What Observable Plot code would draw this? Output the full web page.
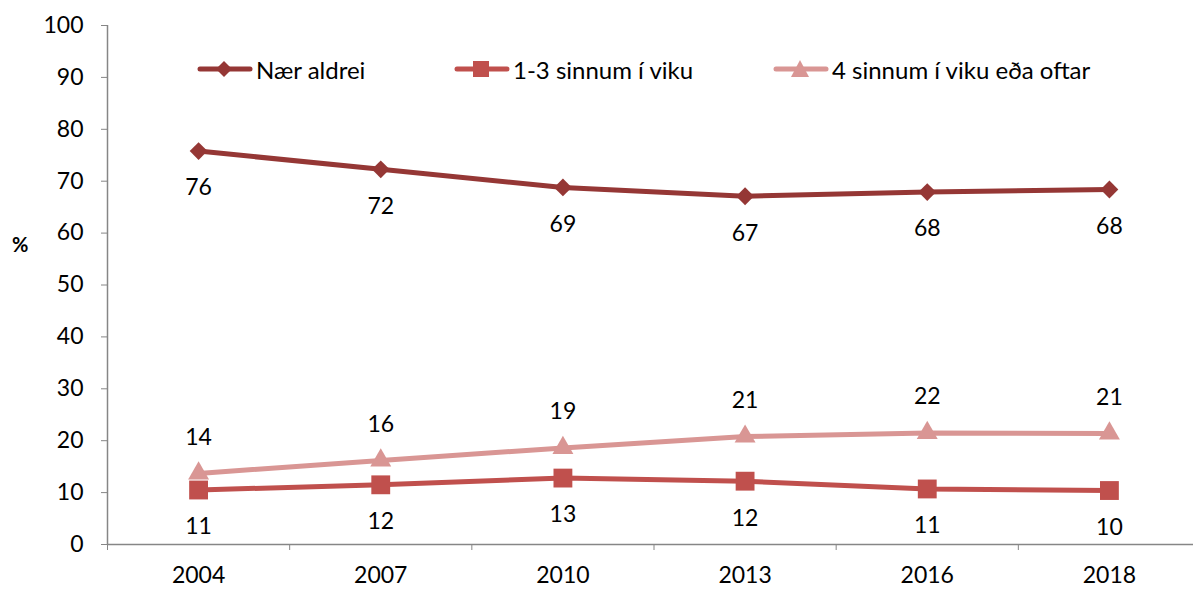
<!DOCTYPE html>
<html>
<head>
<meta charset="utf-8">
<script src="https://cdn.jsdelivr.net/npm/d3@7"></script>
<script src="https://cdn.jsdelivr.net/npm/@observablehq/plot@0.6"></script>
<style>
  html, body { margin: 0; padding: 0; background: #fff; overflow: hidden; }
  #wrap { position: relative; width: 1193px; height: 591px; font-family: Lato, "Open Sans", sans-serif; }
  .leg { position: absolute; top: 56px; height: 26px; display: flex; align-items: center; font-size: 24px; color: #000; white-space: nowrap; }
  .leg svg { margin-right: 3px; }
  #pct { position: absolute; left: 12px; top: 232px; font-weight: bold; font-size: 20px; }
</style>
</head>
<body>
<div id="wrap"></div>
<script>
const years = ["2004", "2007", "2010", "2013", "2016", "2018"];
const seriesNames = ["Nær aldrei", "1-3 sinnum í viku", "4 sinnum í viku eða oftar"];
const naerAldrei = [75.8, 72.3, 68.8, 67.1, 67.9, 68.4];
const einTilThrisvar = [10.5, 11.5, 12.8, 12.2, 10.7, 10.4];
const fjorumSinnum = [13.7, 16.2, 18.6, 20.8, 21.5, 21.4];
const yTicks = [0, 10, 20, 30, 40, 50, 60, 70, 80, 90, 100];

const colors = ["#953735", "#C0504D", "#D99694"];
const symbols = ["diamond2", "square2", "triangle2"];
const symR = [8, 12, 10];
const labelDy = [37, 37, -36];

const allSeries = [naerAldrei, einTilThrisvar, fjorumSinnum];
const rows = [];
allSeries.forEach((vals, s) => vals.forEach((v, i) => rows.push({ s, i, v })));

const marks = [
  Plot.ruleX([-0.5], { y1: 0, y2: 100, stroke: "#868686", strokeWidth: 1.5 }),
  Plot.ruleY([0], { x1: -0.5, x2: 5.6, stroke: "#868686", strokeWidth: 1.5 }),
  Plot.axisY({ ticks: yTicks, tickSize: 6, tickPadding: 18, stroke: "#868686", fill: "#000", label: null, fontSize: 23 }),
  Plot.axisX({ ticks: d3.range(-0.5, 6, 1), tickSize: 6, tickFormat: () => "", stroke: "#868686", label: null }),
  Plot.axisX({ ticks: d3.range(0, 6), tickSize: 0, tickPadding: 22, tickFormat: i => years[i], fill: "#000", label: null, fontSize: 23 })
];
allSeries.forEach((vals, s) => {
  const data = rows.filter(r => r.s === s);
  marks.push(Plot.line(data, { x: "i", y: "v", stroke: colors[s], strokeWidth: 5 }));
  marks.push(Plot.dot(data, { x: "i", y: "v", symbol: symbols[s], fill: colors[s], r: symR[s] }));
  marks.push(Plot.text(data, { x: "i", y: "v", text: d => String(Math.round(d.v)), dy: labelDy[s], fill: "#000", fontSize: 23 }));
});

const chart = Plot.plot({
  width: 1193,
  height: 591,
  marginLeft: 107,
  marginRight: 0,
  marginTop: 25,
  marginBottom: 47,
  x: { type: "linear", domain: [-0.5, 5.5], range: [107, 1200] },
  y: { domain: [0, 100], range: [544, 25] },
  style: { fontFamily: "Lato, 'Open Sans', sans-serif", fontSize: "23px", color: "#000", background: "#fff", overflow: "hidden" },
  marks
});
const wrap = document.getElementById("wrap");
wrap.appendChild(chart);

const pct = document.createElement("div");
pct.id = "pct";
pct.textContent = "%";
wrap.appendChild(pct);

const legLeft = [197, 454, 773];
const symPaths = [
  '<path d="M27,5 L35,13 L27,21 L19,13 Z" />',
  '<rect x="19" y="5" width="16" height="16" />',
  '<path d="M27,4 L36,21 L18,21 Z" />'
];
seriesNames.forEach((name, s) => {
  const d = document.createElement("div");
  d.className = "leg";
  d.style.left = legLeft[s] + "px";
  d.innerHTML = `<svg width="56" height="26"><line x1="3" x2="53" y1="13" y2="13" stroke="${colors[s]}" stroke-width="5" stroke-linecap="round"/><g fill="${colors[s]}">${symPaths[s]}</g></svg><span>${name}</span>`;
  wrap.appendChild(d);
});
</script>
</body>
</html>
